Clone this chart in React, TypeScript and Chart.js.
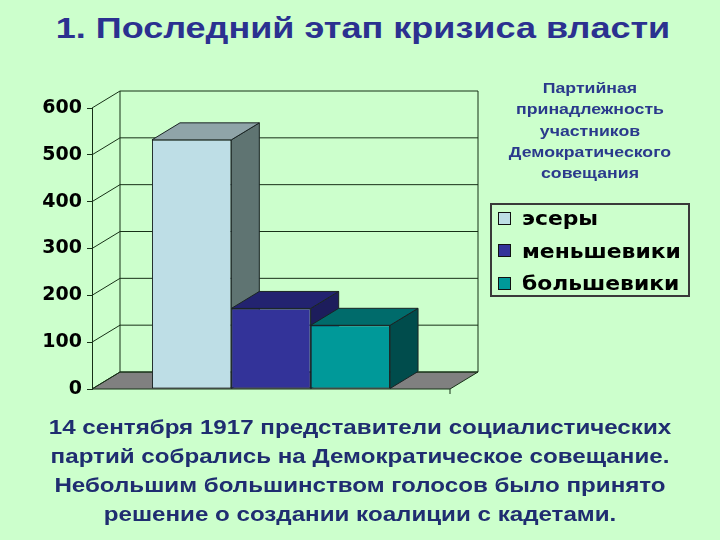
import React, { useEffect, useRef } from "react";
import { Chart, registerables } from "chart.js";

Chart.register(...registerables);

const pageTitle = "1. Последний этап кризиса власти";
const chartTitleLines = ["Партийная", "принадлежность", "участников", "Демократического", "совещания"];
const categories = [""];
const seriesNames = ["эсеры", "меньшевики", "большевики"];
const seriesValues = [[532], [172], [136]];
const frontColors = ["#BEDEE6", "#333399", "#009999"];
const topColors = ["#8FA4A8", "#232370", "#006B6B"];
const sideColors = ["#5F7472", "#1D1D5C", "#004C4C"];
const yTicks = [0, 100, 200, 300, 400, 500, 600];
const bottomLines = [
  "14 сентября 1917 представители социалистических",
  "партий собрались на Демократическое совещание.",
  "Небольшим большинством голосов было принято",
  "решение о создании коалиции с кадетами.",
];

const DX = 28;
const DY = -17;
const LINE = "#173017";

const threeD = {
  id: "threeD",
  beforeDatasetsDraw(chart: any) {
    const ctx = chart.ctx;
    const { left: L, right: R, top: T, bottom: B } = chart.chartArea;
    const ys = chart.scales.y;
    ctx.save();
    ctx.lineWidth = 1;
    ctx.strokeStyle = LINE;
    // floor
    ctx.beginPath();
    ctx.moveTo(L, B);
    ctx.lineTo(R, B);
    ctx.lineTo(R + DX, B + DY);
    ctx.lineTo(L + DX, B + DY);
    ctx.closePath();
    ctx.fillStyle = "#808080";
    ctx.fill();
    ctx.stroke();
    // grid lines on side & back walls
    yTicks.forEach((v) => {
      const y = ys.getPixelForValue(v);
      ctx.beginPath();
      ctx.moveTo(L, y);
      ctx.lineTo(L + DX, y + DY);
      ctx.lineTo(R + DX, y + DY);
      ctx.stroke();
    });
    // wall vertical edges
    ctx.beginPath();
    ctx.moveTo(L + DX, T + DY);
    ctx.lineTo(L + DX, B + DY);
    ctx.moveTo(R + DX, T + DY);
    ctx.lineTo(R + DX, B + DY);
    ctx.moveTo(R, B);
    ctx.lineTo(R, B + 5);
    ctx.stroke();
    // bar sides and tops
    chart.data.datasets.forEach((_: any, i: number) => {
      const meta = chart.getDatasetMeta(i);
      meta.data.forEach((el: any) => {
        const p = el.getProps(["x", "y", "base", "width"], true);
        const l = p.x - p.width / 2;
        const r = p.x + p.width / 2;
        ctx.strokeStyle = "#1a2424";
        ctx.beginPath();
        ctx.moveTo(r, p.y);
        ctx.lineTo(r + DX, p.y + DY);
        ctx.lineTo(r + DX, p.base + DY);
        ctx.lineTo(r, p.base);
        ctx.closePath();
        ctx.fillStyle = sideColors[i];
        ctx.fill();
        ctx.stroke();
        ctx.beginPath();
        ctx.moveTo(l, p.y);
        ctx.lineTo(r, p.y);
        ctx.lineTo(r + DX, p.y + DY);
        ctx.lineTo(l + DX, p.y + DY);
        ctx.closePath();
        ctx.fillStyle = topColors[i];
        ctx.fill();
        ctx.stroke();
      });
    });
    ctx.restore();
  },
};

export default function App() {
  const ref = useRef<HTMLCanvasElement>(null);
  useEffect(() => {
    const chart = new Chart(ref.current as HTMLCanvasElement, {
      type: "bar",
      data: {
        labels: categories,
        datasets: seriesNames.map((name, i) => ({
          label: name,
          data: seriesValues[i],
          backgroundColor: frontColors[i],
          borderColor: "#1a2424",
          borderWidth: 1,
          borderSkipped: false,
          categoryPercentage: 0.665,
          barPercentage: 1,
        })),
      },
      options: {
        responsive: false,
        animation: false,
        layout: { padding: { left: 0, right: 270, top: 108, bottom: 151 } },
        plugins: { legend: { display: false }, tooltip: { enabled: false }, title: { display: false } },
        scales: {
          x: { display: false },
          y: {
            min: 0,
            max: 600,
            afterFit: (s: any) => {
              s.width = 92;
            },
            ticks: {
              stepSize: 100,
              padding: 5,
              color: "#000",
              font: { family: "'DejaVu Sans'", weight: "bold", size: 19 },
            },
            grid: { drawOnChartArea: false, drawTicks: true, tickLength: 5, color: LINE },
            border: { display: true, color: LINE, width: 1 },
          },
        },
      },
      plugins: [threeD],
    } as any);
    return () => chart.destroy();
  }, []);

  const font = "'Liberation Sans', Arial, sans-serif";
  return (
    <div
      style={{
        position: "fixed",
        left: 0,
        top: 0,
        width: 720,
        height: 540,
        background: "#CCFFCC",
        overflow: "hidden",
        fontFamily: font,
      }}
    >
      <div
        style={{
          position: "absolute",
          left: 3,
          top: 10,
          width: 720,
          textAlign: "center",
          fontSize: 30,
          fontWeight: "bold",
          color: "#2B3190",
          lineHeight: "36px",
          transform: "scaleX(1.2)",
          transformOrigin: "360px 0",
          whiteSpace: "nowrap",
        }}
      >
        {pageTitle}
      </div>
      <canvas ref={ref} width={720} height={540} style={{ position: "absolute", left: 0, top: 0 }} />
      <div
        style={{
          position: "absolute",
          left: 490,
          top: 77,
          width: 200,
          textAlign: "center",
          fontSize: 15,
          fontWeight: "bold",
          color: "#2B3A8C",
          lineHeight: "21.3px",
          transform: "scaleX(1.18)",
          transformOrigin: "100px 0",
          whiteSpace: "nowrap",
        }}
      >
        {chartTitleLines.map((t, i) => (
          <div key={i}>{t}</div>
        ))}
      </div>
      <div
        style={{
          position: "absolute",
          left: 490,
          top: 203,
          width: 200,
          height: 94,
          border: "2px solid #3a3a3a",
          boxSizing: "border-box",
        }}
      >
        <div style={{ position: "relative", top: -3 }}>
          {seriesNames.map((n, i) => (
            <div key={i} style={{ display: "flex", alignItems: "center", height: 32.5, marginLeft: 6 }}>
              <div
                style={{
                  width: 13,
                  height: 13,
                  background: frontColors[i],
                  border: "1px solid #111",
                  boxSizing: "border-box",
                  marginRight: 11,
                }}
              />
              <span
                style={{
                  fontFamily: "'DejaVu Sans'",
                  fontWeight: "bold",
                  fontSize: 19,
                  color: "#000",
                  display: "inline-block",
                  transform: "scaleX(1.15)",
                  transformOrigin: "0 0",
                  whiteSpace: "nowrap",
                }}
              >
                {n}
              </span>
            </div>
          ))}
        </div>
      </div>
      <div
        style={{
          position: "absolute",
          left: 0,
          top: 412,
          width: 720,
          textAlign: "center",
          fontSize: 21,
          fontWeight: "bold",
          color: "#1F2D70",
          lineHeight: "29px",
          transform: "scaleX(1.15)",
          transformOrigin: "360px 0",
          whiteSpace: "nowrap",
        }}
      >
        {bottomLines.map((t, i) => (
          <div key={i}>{t}</div>
        ))}
      </div>
    </div>
  );
}
